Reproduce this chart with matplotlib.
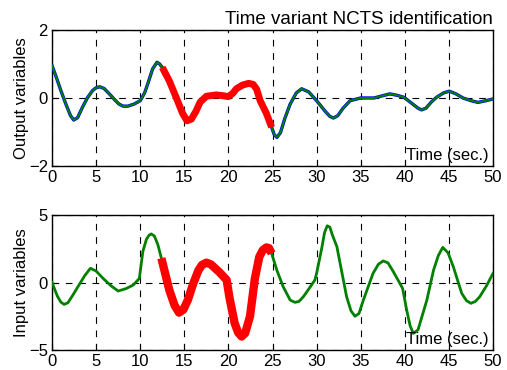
import numpy as np
import matplotlib.pyplot as plt

plt.rcParams['font.family'] = ['Liberation Sans', 'DejaVu Sans']

# output signal (model and plant nearly identical)
t_out = [0, 0.5, 1.0, 1.6, 2.1, 2.46, 2.9, 3.4, 4.0, 4.6, 5.0, 5.4, 5.9, 6.5, 7.1,
         7.6, 8.05, 8.6, 9.3, 10.0, 10.5, 10.9, 11.4, 11.9, 12.2, 12.5, 13.3, 14.1,
         14.8, 15.3, 15.8, 16.3, 16.8, 17.5, 18.6, 19.3, 20.0, 20.5, 20.9, 21.6,
         22.3, 22.8, 23.2, 23.6, 24.3, 24.9, 25.2, 25.5, 25.9, 26.4, 27.0, 27.7,
         28.3, 29.1, 30.0, 31.0, 31.5, 31.9, 32.4, 33.0, 33.8, 35.0, 36.5, 37.4,
         38.3, 39.1, 39.9, 40.9, 41.5, 41.9, 42.4, 43.0, 43.6, 44.4, 45.05, 45.8,
         46.6, 47.5, 48.3, 49.2, 50.0]
y_out = [0.95, 0.6, 0.22, -0.2, -0.52, -0.65, -0.58, -0.3, 0.0, 0.22, 0.3, 0.33,
         0.28, 0.12, -0.05, -0.18, -0.24, -0.24, -0.18, -0.08, 0.15, 0.45, 0.85,
         1.05, 1.0, 0.9, 0.5, 0.0, -0.45, -0.67, -0.62, -0.4, -0.12, 0.05, 0.09,
         0.07, 0.04, 0.14, 0.27, 0.38, 0.43, 0.4, 0.26, -0.08, -0.45, -0.86, -1.08,
         -1.16, -1.02, -0.6, -0.18, 0.15, 0.27, 0.18, -0.08, -0.4, -0.54, -0.59,
         -0.52, -0.3, -0.08, 0.0, 0.0, 0.06, 0.12, 0.08, 0.02, -0.18, -0.3, -0.35,
         -0.3, -0.12, 0.02, 0.15, 0.2, 0.12, 0.0, -0.08, -0.13, -0.08, -0.03]

# input signal
t_in = [0, 0.6, 1.0, 1.36, 1.8, 2.3, 2.95, 3.7, 4.35, 5.0, 5.8, 6.7, 7.5, 8.4,
        9.2, 9.9, 10.3, 10.7, 11.0, 11.25, 11.6, 12.0, 12.4, 13.3, 13.9, 14.4,
        14.9, 15.4, 16.0, 16.6, 17.0, 17.5, 18.0, 18.5, 19.0, 19.8, 20.1, 20.7,
        21.1, 21.5, 21.9, 22.45, 23.0, 23.5, 23.9, 24.3, 24.6, 24.9, 25.5, 26.2,
        27.0, 27.55, 28.0, 28.5, 29.2, 29.8, 30.0, 30.6, 30.9, 31.2, 31.5, 31.8,
        32.3, 33.4, 33.9, 34.35, 34.8, 35.3, 36.4, 37.0, 37.55, 38.1, 38.7, 39.3,
        39.75, 40.2, 40.6, 40.96, 41.5, 42.5, 43.25, 43.8, 44.3, 44.9, 45.5, 46.45,
        47.0, 47.5, 48.0, 48.5, 49.3, 50.0]
u_in = [0.0, -1.0, -1.45, -1.62, -1.5, -1.0, -0.3, 0.5, 1.05, 0.85, 0.3, -0.25,
        -0.63, -0.45, -0.19, 0.3, 2.3, 3.2, 3.5, 3.6, 3.45, 2.8, 1.8, -0.56, -1.7,
        -2.23, -2.0, -1.3, -0.1, 0.9, 1.3, 1.47, 1.35, 1.05, 0.75, 0.19, -1.05,
        -3.0, -3.7, -4.0, -3.75, -2.5, 0.3, 1.9, 2.4, 2.6, 2.55, 2.15, 0.9, -0.3,
        -1.3, -1.47, -1.4, -1.05, -0.4, 0.18, 0.68, 2.6, 3.7, 4.2, 4.1, 3.5, 2.65,
        -1.05, -2.1, -2.5, -2.3, -1.3, 0.68, 1.35, 1.6, 1.45, 0.8, 0.1, -0.43,
        -2.0, -3.2, -3.77, -3.5, -1.3, 0.9, 2.0, 2.6, 2.2, 1.17, -0.8, -1.35,
        -1.54, -1.4, -1.05, -0.2, 0.68]

t_red = (12.5, 25.0)

t_out = np.array(t_out)
y_out = np.array(y_out)
t_in = np.array(t_in)
u_in = np.array(u_in)

fig = plt.figure(figsize=(5.07, 3.70), dpi=100)
ax1 = fig.add_axes([0.1026, 0.5514, 0.8698, 0.3676])
ax2 = fig.add_axes([0.1026, 0.054, 0.8698, 0.3649])

m = (t_out >= t_red[0] - 0.01) & (t_out <= t_red[1] + 0.01)
ax1.plot(t_out, y_out, color='blue', lw=2.4, zorder=3)
ax1.plot(t_out, y_out, color='green', lw=1.5, zorder=4)
ax1.plot(t_out[m], y_out[m], color='red', lw=5, zorder=5, solid_capstyle='butt')

m2 = (t_in >= 12.4) & (t_in <= 24.9)
ax2.plot(t_in, u_in, color='green', lw=2, zorder=4)
ax2.plot(t_in[m2], u_in[m2], color='red', lw=6, zorder=5, solid_capstyle='butt')

for ax, lim, ticks in [(ax1, (-2, 2), [-2, 0, 2]), (ax2, (-5, 5), [-5, 0, 5])]:
    ax.set_xlim(0, 50)
    ax.set_ylim(*lim)
    ax.set_xticks(np.arange(0, 51, 5))
    ax.set_yticks(ticks)
    ax.grid(True, color='black', linestyle=(0, (6, 6)), lw=0.8)
    ax.tick_params(direction='in', labelsize=12, length=4, pad=3)
    for s in ax.spines.values():
        s.set_linewidth(1)
    ax.text(0.99, 0.02, 'Time (sec.)', transform=ax.transAxes, ha='right',
            va='bottom', fontsize=12, zorder=6)

ax1.set_ylabel('Output variables', fontsize=12, labelpad=0)
ax2.set_ylabel('Input variables', fontsize=12, labelpad=0)
ax1.set_title('Time variant NCTS identification', fontsize=13.5, loc='right', pad=4)

plt.savefig('out.png', dpi=100)
